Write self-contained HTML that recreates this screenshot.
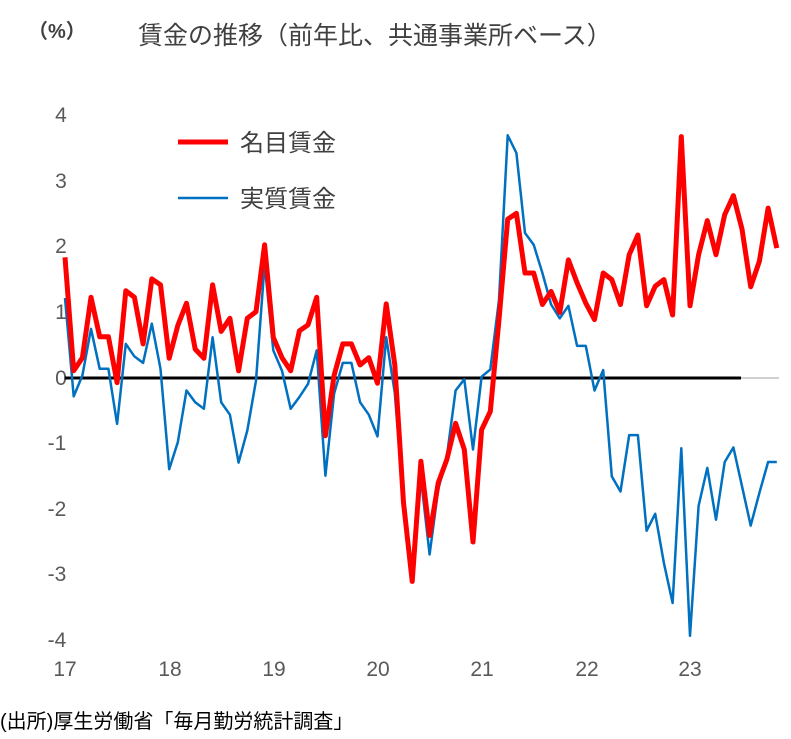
<!DOCTYPE html>
<html><head><meta charset="utf-8"><style>
body{margin:0;background:#fff;}
svg{display:block;font-family:"Liberation Sans","Noto Sans CJK JP",sans-serif;}
</style></head><body>
<svg width="791" height="739" xmlns="http://www.w3.org/2000/svg">
<text x="28" y="38" font-size="20" font-weight="bold" fill="#404040">（%）</text>
<text x="138" y="44" font-size="25" fill="#404040">賃金の推移（前年比、共通事業所ベース）</text>
<g font-size="21" fill="#595959" text-anchor="middle">
<text x="61" y="122">4</text><text x="61" y="188">3</text><text x="61" y="253">2</text><text x="61" y="319">1</text><text x="61" y="385">0</text>
<text x="57" y="450">-1</text><text x="57" y="516">-2</text><text x="57" y="581">-3</text><text x="57" y="647">-4</text>
<text x="65" y="676">17</text><text x="170" y="676">18</text><text x="274" y="676">19</text><text x="378" y="676">20</text><text x="482" y="676">21</text><text x="587" y="676">22</text><text x="690" y="676">23</text>
</g>
<line x1="740" y1="378" x2="779" y2="378" stroke="#d0d0d0" stroke-width="2"/>
<line x1="65" y1="378" x2="741" y2="378" stroke="#000" stroke-width="3"/>
<polyline id="b" fill="none" stroke="#0070c0" stroke-width="2.5" stroke-linejoin="round" points=""/>
<polyline id="r" fill="none" stroke="#ff0000" stroke-width="5" stroke-linejoin="round" points=""/>
<line x1="178" y1="142" x2="228" y2="142" stroke="#ff0000" stroke-width="5"/>
<text x="240" y="151" font-size="24" fill="#404040">名目賃金</text>
<line x1="178" y1="198" x2="228" y2="198" stroke="#0070c0" stroke-width="2.5"/>
<text x="240" y="207" font-size="24" fill="#404040">実質賃金</text>
<text x="0" y="728" font-size="20" fill="#000">(出所)厚生労働省「毎月勤労統計調査」</text>
</svg>
<script>
var R=[1.84,0.11,0.31,1.23,0.63,0.63,-0.07,1.33,1.23,0.52,1.51,1.42,0.3,0.8,1.14,0.44,0.3,1.42,0.71,0.91,0.11,0.91,1.01,2.03,0.62,0.31,0.11,0.72,0.81,1.23,-0.88,0.04,0.52,0.52,0.2,0.31,-0.08,1.13,0.2,-1.9,-3.1,-1.27,-2.4,-1.6,-1.24,-0.69,-1.09,-2.5,-0.79,-0.51,0.89,2.42,2.51,1.6,1.6,1.12,1.32,1.0,1.8,1.45,1.14,0.89,1.6,1.5,1.12,1.88,2.18,1.1,1.4,1.5,0.96,3.68,1.1,1.88,2.4,1.88,2.49,2.78,2.27,1.39,1.78,2.59,1.98];
var B=[1.22,-0.28,0.04,0.75,0.14,0.14,-0.7,0.52,0.33,0.23,0.83,0.14,-1.39,-0.98,-0.19,-0.37,-0.47,0.62,-0.37,-0.56,-1.29,-0.8,-0.04,1.74,0.42,0.11,-0.47,-0.29,-0.09,0.42,-1.49,-0.24,0.23,0.23,-0.37,-0.56,-0.89,0.62,-0.23,-1.9,-3.07,-1.52,-2.69,-1.7,-1.19,-0.19,-0.02,-1.09,0.02,0.13,1.19,3.7,3.43,2.21,2.03,1.6,1.12,0.91,1.1,0.49,0.49,-0.19,0.12,-1.5,-1.73,-0.87,-0.87,-2.33,-2.07,-2.82,-3.43,-1.07,-3.93,-1.95,-1.37,-2.16,-1.28,-1.06,-1.65,-2.25,-1.75,-1.28,-1.28];
function p(a){return a.map(function(v,i){return (65+i*8.68).toFixed(1)+","+(378-v*65.6).toFixed(1)}).join(" ");}
document.getElementById("r").setAttribute("points",p(R));
document.getElementById("b").setAttribute("points",p(B));
</script>
</body></html>
